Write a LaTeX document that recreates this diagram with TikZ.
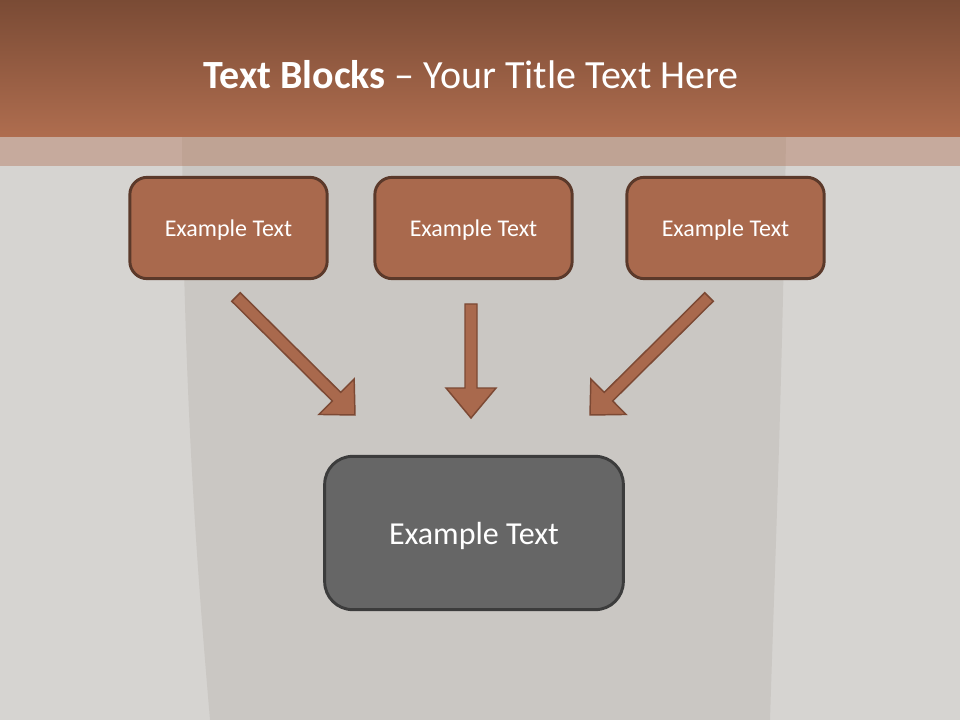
\documentclass[tikz,border=0pt]{standalone}
\usepackage{fontspec}
\setmainfont{Carlito}
\usepackage{tikz}
\usetikzlibrary{calc,shapes}
\definecolor{bandtop}{HTML}{7A4B35}
\definecolor{bandbot}{HTML}{AF6D4F}
\definecolor{brickfill}{HTML}{A9694D}
\definecolor{brickline}{HTML}{5B392A}
\definecolor{arrowline}{HTML}{7C4934}
\definecolor{slatefill}{HTML}{666666}
\definecolor{slateline}{HTML}{3C3C3C}
\definecolor{paper}{HTML}{D6D4D1}
\definecolor{vase}{HTML}{CAC7C3}
\tikzset{
  topblock/.style={draw=brickline,line width=2.2pt,fill=brickfill,rounded corners=13pt,
    minimum width=148pt,minimum height=76pt,text depth=0pt,text=white,font=\fontsize{18}{22}\selectfont},
  mainblock/.style={draw=slateline,line width=2.2pt,fill=slatefill,rounded corners=21pt,
    minimum width=224pt,minimum height=115pt,text depth=0pt,text=white,font=\fontsize{24}{29}\selectfont},
  blockarrow/.style={draw=arrowline,line width=1.1pt,fill=brickfill,line join=miter}
}
% #1 tail, #2 tip, #3 head length
\newcommand{\blockarrow}[3]{%
  \path coordinate (hd) at ($(#2)!#3!(#1)$);
  \draw[blockarrow] ($(#1)!4.5pt!90:(#2)$)--($(hd)!4.5pt!-90:(#1)$)--($(hd)!18.75pt!-90:(#1)$)
    --(#2)--($(hd)!18.75pt!90:(#1)$)--($(hd)!4.5pt!90:(#1)$)--($(#1)!4.5pt!-90:(#2)$)--cycle;
}
\begin{document}
\begin{tikzpicture}[x=0.75pt,y=-0.75pt]
\useasboundingbox (0,0) rectangle (960,720);
%background
\fill[paper] (0,0) rectangle (960,720);
\fill[vase] (182,137) .. controls (184,420) and (200,600) .. (210,720)--(770,720)
  .. controls (775,560) and (782,400) .. (786,137)--cycle;
%title band
\shade[top color=bandtop,bottom color=bandbot] (0,0) rectangle (960,137);
\fill[bandbot,opacity=.4] (0,137) rectangle (960,166);
\node[text=white,font=\fontsize{30}{36}\selectfont] (title) at (471,75) {\textbf{Text Blocks} – Your Title Text Here};
%blocks
\node[topblock] (left) at (228.5,228) {Example Text};
\node[topblock] (mid) at (473.5,228) {Example Text};
\node[topblock] (right) at (725.5,228) {Example Text};
\node[mainblock] (result) at (474,533) {Example Text};
%arrows
\coordinate (ltail) at (236,297);
\coordinate (ltip) at (355,415);
\coordinate (mtail) at (471,304);
\coordinate (mtip) at (471,418);
\coordinate (rtail) at (709,297);
\coordinate (rtip) at (590,415);
\blockarrow{ltail}{ltip}{19.5pt}
\blockarrow{mtail}{mtip}{22.5pt}
\blockarrow{rtail}{rtip}{19.5pt}
\end{tikzpicture}
\end{document}
